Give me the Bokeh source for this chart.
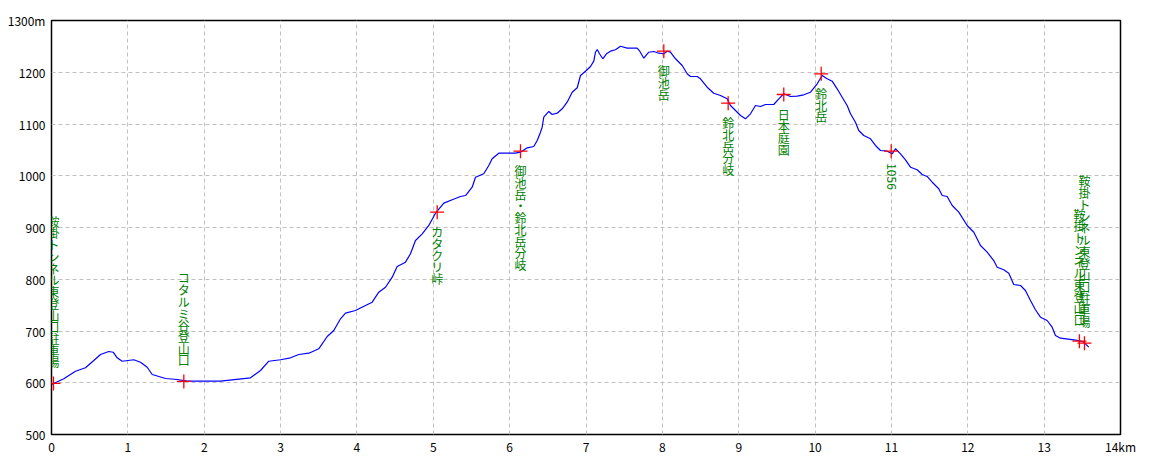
import math
from bokeh.plotting import figure
from bokeh.models import FixedTicker, ColumnDataSource, Range1d, LabelSet
from bokeh.core.properties import value
from bokeh.embed import file_html
from bokeh.resources import INLINE

# --- profile (distance km, elevation m) ---
dist_km = [
    0.000, 0.161, 0.314, 0.445, 0.554, 0.642, 0.750, 0.808, 0.860, 0.926,
    1.078, 1.166, 1.253, 1.319, 1.493, 1.646, 1.777, 2.213, 2.606, 2.737,
    2.846, 2.999, 3.130, 3.239, 3.370, 3.500, 3.611, 3.697, 3.785, 3.850,
    3.981, 4.112, 4.200, 4.286, 4.374, 4.462, 4.527, 4.636, 4.701, 4.767,
    4.855, 4.941, 5.029, 5.138, 5.248, 5.356, 5.422, 5.509, 5.553, 5.661,
    5.727, 5.771, 5.858, 6.076, 6.142, 6.230, 6.316, 6.361, 6.404, 6.426,
    6.447, 6.513, 6.557, 6.623, 6.688, 6.753, 6.819, 6.885, 6.928, 6.993,
    7.059, 7.102, 7.124, 7.147, 7.177, 7.220, 7.268, 7.321, 7.386, 7.452,
    7.539, 7.670, 7.704, 7.757, 7.822, 7.888, 7.954, 8.019, 8.063, 8.106,
    8.172, 8.260, 8.325, 8.368, 8.456, 8.499, 8.587, 8.673, 8.761, 8.849,
    8.892, 8.958, 9.023, 9.089, 9.154, 9.220, 9.285, 9.351, 9.459, 9.525,
    9.590, 9.677, 9.765, 9.852, 9.940, 10.028, 10.093, 10.158, 10.224, 10.289,
    10.355, 10.420, 10.464, 10.529, 10.572, 10.638, 10.726, 10.791, 10.857, 10.944,
    11.010, 11.053, 11.119, 11.184, 11.250, 11.337, 11.403, 11.468, 11.534, 11.620,
    11.665, 11.730, 11.796, 11.882, 11.992, 12.079, 12.166, 12.254, 12.340, 12.385,
    12.471, 12.537, 12.602, 12.690, 12.755, 12.821, 12.886, 12.952, 13.039, 13.105,
    13.148, 13.214, 13.388, 13.453, 13.519, 13.584,
]
elev_m = [
    596.6, 607.6, 622.3, 628.9, 643.0, 654.6, 660.4, 659.0, 648.2, 641.6,
    644.4, 639.7, 630.0, 616.0, 608.2, 606.3, 603.0, 603.0, 609.6, 623.7,
    641.6, 644.4, 648.2, 654.6, 657.1, 665.6, 689.4, 701.0, 723.6, 734.4,
    739.6, 749.3, 755.7, 775.0, 784.6, 804.0, 824.6, 833.0, 849.2, 874.9,
    887.8, 903.9, 927.6, 947.0, 953.5, 959.9, 961.8, 977.9, 997.2, 1003.8,
    1019.8, 1032.8, 1043.6, 1043.6, 1045.5, 1054.0, 1056.5, 1068.1, 1084.2, 1093.8,
    1113.1, 1124.2, 1118.4, 1120.9, 1129.4, 1142.1, 1161.4, 1170.0, 1193.7, 1202.0,
    1211.1, 1221.4, 1238.7, 1244.0, 1235.7, 1226.0, 1235.7, 1240.7, 1243.4, 1250.3,
    1246.5, 1246.5, 1240.7, 1227.1, 1238.7, 1240.1, 1236.8, 1235.7, 1240.7, 1238.7,
    1226.0, 1213.0, 1197.0, 1191.8, 1191.8, 1187.3, 1171.1, 1159.5, 1155.1, 1148.7,
    1135.7, 1126.1, 1116.4, 1110.0, 1119.7, 1135.7, 1133.8, 1137.7, 1137.7, 1148.7,
    1158.4, 1153.1, 1153.7, 1156.4, 1161.4, 1177.7, 1193.7, 1187.3, 1182.7, 1168.0,
    1151.8, 1135.7, 1119.7, 1103.5, 1087.4, 1077.8, 1071.4, 1058.5, 1048.8, 1047.4,
    1042.4, 1052.1, 1042.4, 1030.8, 1016.5, 1011.5, 1002.4, 998.6, 987.5, 974.8,
    961.8, 959.9, 942.5, 929.6, 903.9, 890.9, 865.2, 852.3, 836.2, 823.3,
    818.3, 811.7, 789.9, 787.9, 778.3, 758.9, 741.0, 726.7, 720.3, 707.3,
    691.3, 686.1, 683.0, 681.6, 678.4, 668.7,
]

# --- waypoints ---
wp_names = [
    "鞍掛トンネル東登山口駐車場", "コタルミ谷登山口", "カタクリ峠", "御池岳・鈴北岳分岐",
    "御池岳", "鈴北岳分岐", "日本庭園", "鈴北岳", "1056",
    "鞍掛トンネル東登山口", "鞍掛トンネル東登山口駐車場",
]
wp_km = [0.026, 1.733, 5.051, 6.142, 8.019, 8.862, 9.590, 10.080, 10.997, 13.462, 13.528]
wp_m = [598.6, 602.5, 929.6, 1047.4, 1240.7, 1140.2, 1157.0, 1197.0, 1047.4, 680.3, 676.4]
wp_label_above = [True, True, False, False, False, False, False, False, False, True, True]

# --- axis ticks ---
x_ticks = list(range(0, 15))
y_ticks = list(range(500, 1301, 100))
x_tick_overrides = {14: "14km"}
y_tick_overrides = {1300: "1300m"}

FONT = "Noto Sans CJK JP"

p = figure(
    width=1156, height=460,
    x_range=Range1d(0, 14), y_range=Range1d(500, 1300),
    output_backend="svg", toolbar_location=None,
    min_border_left=51, min_border_right=36, min_border_top=20, min_border_bottom=26,
)
p.title.visible = False
p.background_fill_color = "white"
p.border_fill_color = "white"
p.outline_line_color = "black"
p.outline_line_width = 1.5
p.outline_line_alpha = 1.0

for ax in (p.xaxis[0], p.yaxis[0]):
    ax.axis_line_color = None
    ax.major_tick_in = 0
    ax.major_tick_out = 0
    ax.minor_tick_line_color = None
    ax.major_label_text_font = FONT
    ax.major_label_text_font_size = "12px"
    ax.major_label_text_color = "black"

p.xaxis.ticker = FixedTicker(ticks=x_ticks)
p.yaxis.ticker = FixedTicker(ticks=y_ticks)
p.xaxis.major_label_overrides = x_tick_overrides
p.yaxis.major_label_overrides = y_tick_overrides
p.xaxis.major_label_standoff = 3
p.yaxis.major_label_standoff = 6

p.xgrid.ticker = FixedTicker(ticks=x_ticks[1:-1])
p.ygrid.ticker = FixedTicker(ticks=y_ticks[1:-1])
for g in (p.xgrid[0], p.ygrid[0]):
    g.grid_line_color = "#c0c0c0"
    g.grid_line_dash = "4 3"
    g.grid_line_width = 1

# profile line
p.line(dist_km, elev_m, line_color="#0000ff", line_width=1.2)

# waypoint crosses
p.scatter(wp_km, wp_m, marker="cross", size=14, line_color="#ff0000", line_width=1.3)

# labels
above = dict(x=[], y=[], t=[])
below = dict(x=[], y=[], t=[])
rot = dict(x=[], y=[], t=[])
for name, xk, ym, up in zip(wp_names, wp_km, wp_m, wp_label_above):
    if name.isascii():
        rot["x"].append(xk); rot["y"].append(ym); rot["t"].append(name)
    elif up:
        above["x"].append(xk); above["y"].append(ym); above["t"].append("\n".join(name))
    else:
        below["x"].append(xk); below["y"].append(ym); below["t"].append("\n".join(name))

common = dict(text_font=value(FONT), text_font_size="12px", text_color="#008000")
p.add_layout(LabelSet(x="x", y="y", text="t", source=ColumnDataSource(above),
                      text_align="center", text_baseline="bottom", y_offset=13,
                      text_line_height=0.69, **common))
p.add_layout(LabelSet(x="x", y="y", text="t", source=ColumnDataSource(below),
                      text_align="center", text_baseline="top", y_offset=-11,
                      text_line_height=0.69, **common))
p.add_layout(LabelSet(x="x", y="y", text="t", source=ColumnDataSource(rot),
                      text_align="left", text_baseline="middle", angle=-math.pi / 2,
                      y_offset=-12, **common))

open("out.html", "w").write(file_html(p, INLINE))
